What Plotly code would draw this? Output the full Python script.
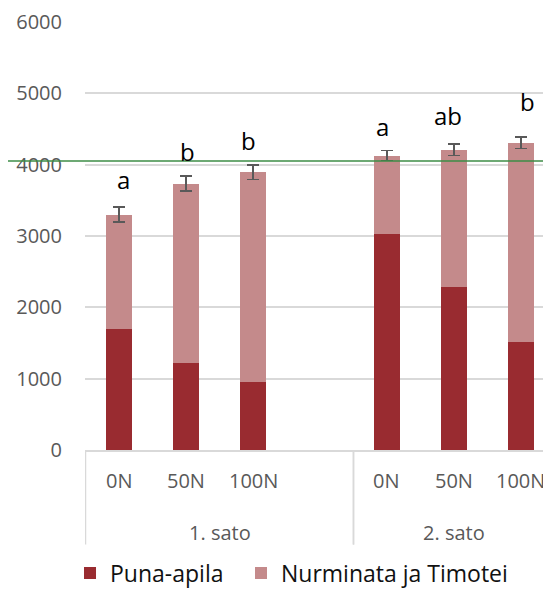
import plotly.graph_objects as go

# ---- data ----
harvests = ["1. sato", "2. sato"]
treatments = ["0N", "50N", "100N"]
slot_index = [0, 1, 2, 4, 5, 6]          # category slots (slot 3 is an empty spacer)
harvest_slots = [[0, 1, 2, 3], [4, 5, 6]]
puna_apila = [1701, 1223, 953, 3026, 2292, 1516]
nurminata_timotei = [1600, 2511, 2938, 1102, 1920, 2794]
error_total = [104, 104, 102, 72, 80, 80]
letters = ["a", "b", "b", "a", "ab", "b"]
reference_level = 4052
y_ticks = [0, 1000, 2000, 3000, 4000, 5000, 6000]

# ---- style ----
DARK = "rgb(153,43,48)"
LIGHT = "rgb(196,138,139)"
GRID = "#d9d9d9"
TICK = "#595959"
FONT = "Open Sans"
letter_xshift = [4, 1, -5, -4, -6, 7]
letter_yshift = [9, 6, 6, 5, 10, 17]

totals = [a + b for a, b in zip(puna_apila, nurminata_timotei)]
cat_labels = treatments + treatments

fig = go.Figure()
fig.add_trace(go.Bar(
    x=slot_index, y=puna_apila, name="Puna-apila", legend="legend",
    marker=dict(color=DARK, line=dict(width=0)), width=0.4,
))
fig.add_trace(go.Bar(
    x=slot_index, y=nurminata_timotei, name="Nurminata ja Timotei",
    legend="legend2",
    marker=dict(color=LIGHT, line=dict(width=0)), width=0.4,
    error_y=dict(type="data", array=error_total, visible=True,
                 color=TICK, thickness=1.5, width=6),
))

annotations = []
for i, s in enumerate(slot_index):
    annotations.append(dict(
        x=s, y=totals[i] + error_total[i], xref="x", yref="y",
        text=letters[i], showarrow=False, yanchor="bottom",
        xshift=letter_xshift[i], yshift=letter_yshift[i],
        font=dict(family=FONT, size=24, color="black"),
    ))
    annotations.append(dict(
        x=s, y=-0.072, xref="x", yref="paper", text=cat_labels[i],
        showarrow=False, yanchor="middle",
        font=dict(family=FONT, size=20, color=TICK),
    ))
for h, slots in zip(harvests, harvest_slots):
    annotations.append(dict(
        x=(slots[0] + slots[-1]) / 2, y=-0.193, xref="x", yref="paper",
        text=h, showarrow=False, yanchor="middle",
        font=dict(family=FONT, size=20, color=TICK),
    ))

shapes = []
for slots in harvest_slots:
    for xv in (slots[0] - 0.5, slots[-1] + 0.5):
        shapes.append(dict(type="line", xref="x", yref="paper",
                           x0=xv, x1=xv, y0=0, y1=-0.221,
                           line=dict(color=GRID, width=1.5)))
shapes.append(dict(type="line", xref="paper", yref="y",
                   x0=-0.2, x1=1.05, y0=reference_level, y1=reference_level,
                   line=dict(color="rgb(60,140,70)", width=1.5), layer="above"))

legend_style = dict(orientation="h", xref="container", xanchor="left",
                    yref="container", y=0.031, yanchor="middle",
                    font=dict(family=FONT, size=23, color="#111111"),
                    bgcolor="rgba(0,0,0,0)")

fig.update_layout(
    width=543, height=583,
    margin=dict(l=77, r=0, t=12, b=141, pad=0),
    paper_bgcolor="white", plot_bgcolor="white",
    barmode="stack", bargap=0,
    font=dict(family=FONT, color=TICK),
    xaxis=dict(range=[-0.5075, 6.448], showticklabels=False, showgrid=False,
               zeroline=False, showline=True, linecolor=GRID, linewidth=1.5,
               ticks="", fixedrange=True),
    yaxis=dict(range=[0, 6000], tickvals=y_ticks, showgrid=True,
               gridcolor=GRID, gridwidth=1.5, zeroline=False, showline=False,
               ticks="", ticklabelstandoff=22, ticklabeloverflow="allow",
               tickfont=dict(family=FONT, size=20, color=TICK)),
    showlegend=True,
    legend=dict(x=0.1142, **legend_style),
    legend2=dict(x=0.4291, **legend_style),
    annotations=annotations, shapes=shapes,
)

fig.write_html("out.html")
